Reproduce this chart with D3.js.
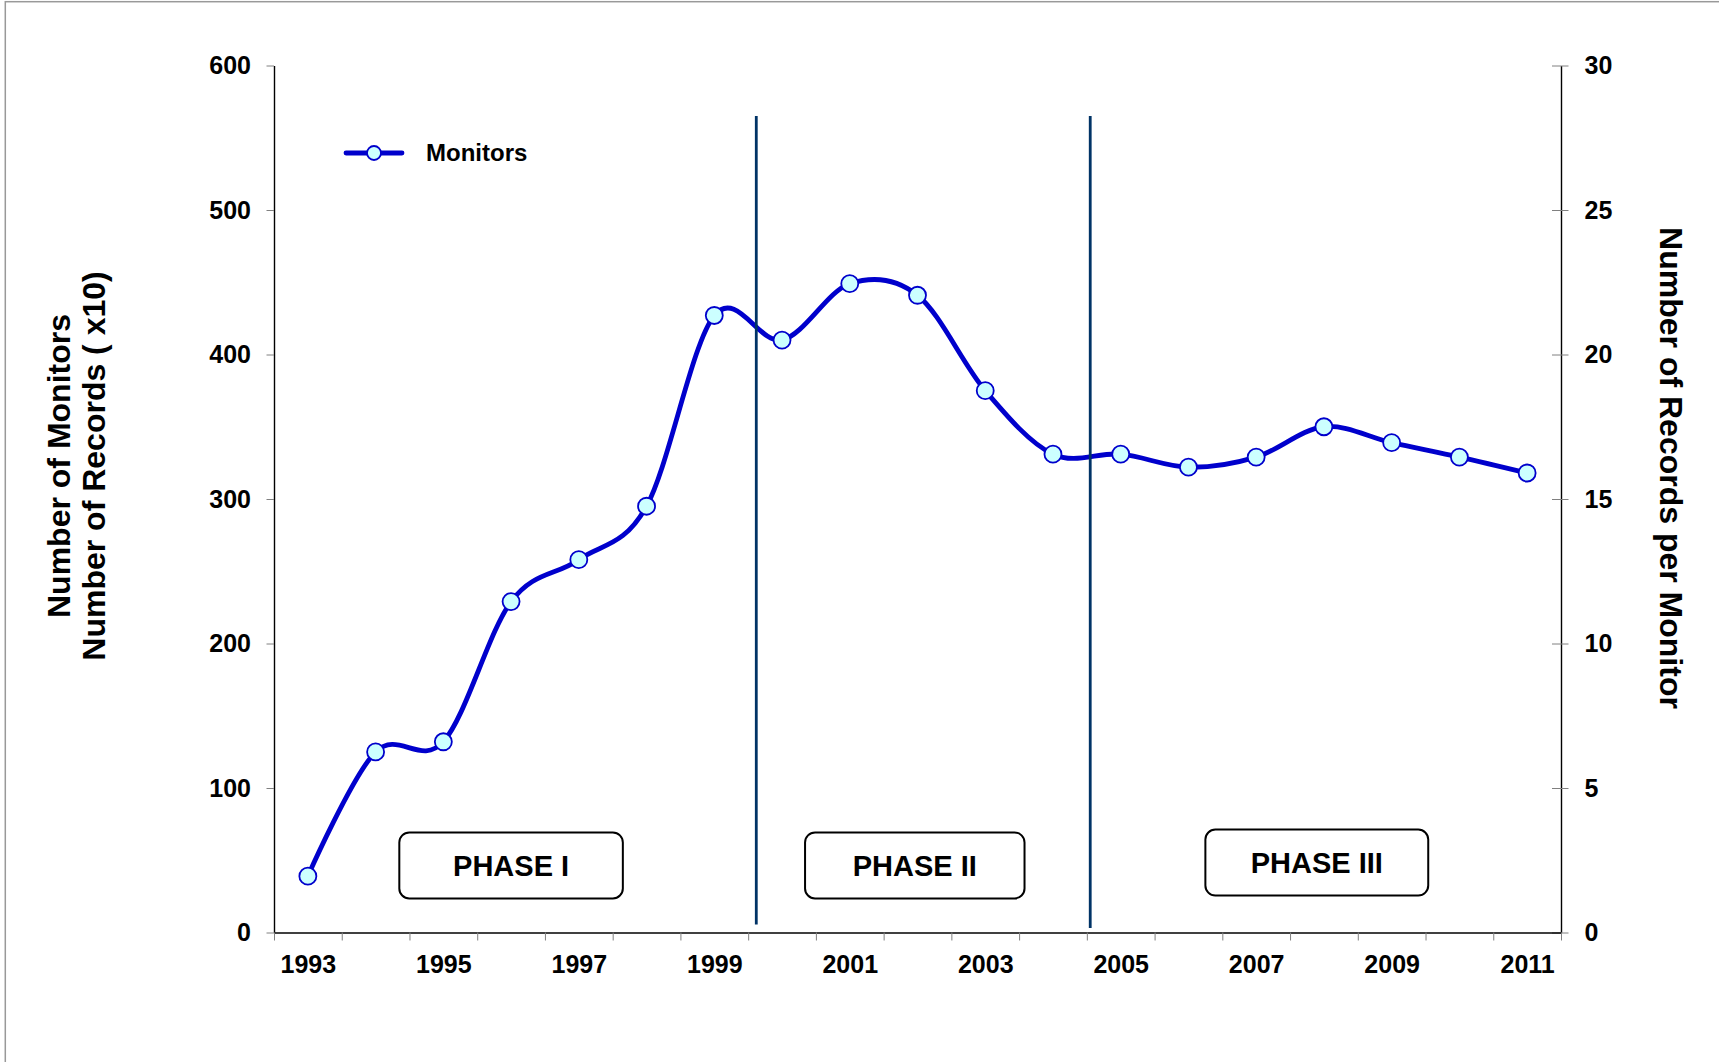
<!DOCTYPE html>
<html>
<head>
<meta charset="utf-8">
<script src="https://cdn.jsdelivr.net/npm/d3@7"></script>
<style>
body { margin: 0; background: #fff; }
svg text { font-family: "Liberation Sans", Arial, sans-serif; font-weight: bold; fill: #000; }
</style>
</head>
<body>
<div class="main"></div>
<script>
//chart values
var years = [1993, 1994, 1995, 1996, 1997, 1998, 1999, 2000, 2001, 2002, 2003, 2004, 2005, 2006, 2007, 2008, 2009, 2010, 2011];
var monitors = [39, 125, 132, 229, 258, 295, 427, 410, 449, 441, 375, 331, 331, 322, 329, 350, 339, 329, 318];
var yearLabels = [1993, 1995, 1997, 1999, 2001, 2003, 2005, 2007, 2009, 2011];
var leftTicks = [0, 100, 200, 300, 400, 500, 600];
var rightTicks = [0, 5, 10, 15, 20, 25, 30];
var phaseNames = ["PHASE I", "PHASE II", "PHASE III"];
var phaseStart = [1994.35, 2000.34, 2006.25];//in years
var phaseEnd = [1997.65, 2003.58, 2009.54];
var phaseLevel = [46.4, 46.4, 48.4];//box centre, left axis units
var phaseDividers = [1999.62, 2004.55];
var dividerBottom = [5.5, 3.2];

//canvas config
var margin = {top: 65.5, right: 158, bottom: 129.5, left: 274};
var width = 1719 - margin.left - margin.right;
var height = 1062 - margin.top - margin.bottom;

var svg = d3.select(".main")
	.append("svg")
	.attr("width", 1719)
	.attr("height", 1062);

//outer frame (only top and left are visible)
svg.append("rect")
	.attr("x", 5.3)
	.attr("y", 1.7)
	.attr("width", 1800)
	.attr("height", 1200)
	.style("fill", "none")
	.style("stroke", "#999")
	.style("stroke-width", 1.5);

var g = svg.append("g")
	.attr("transform", "translate(" + margin.left + "," + margin.top + ")");

var xScale = d3.scaleLinear()
	.domain([1992.5, 2011.5])
	.range([0, width]);
var yScale = d3.scaleLinear()
	.domain([0, 600])
	.range([height, 0]);
var yScaleRight = d3.scaleLinear()
	.domain([0, 30])
	.range([height, 0]);

//left axis
var yAxis = d3.axisLeft(yScale)
	.tickValues(leftTicks)
	.tickSize(7.5)
	.tickSizeOuter(0)
	.tickPadding(15.5);
g.append("g")
	.attr("class", "y-axis")
	.call(yAxis);

//right axis, ticks cross the line
var yAxisRight = d3.axisRight(yScaleRight)
	.tickValues(rightTicks)
	.tickSize(7.5)
	.tickSizeOuter(0)
	.tickPadding(16);
g.append("g")
	.attr("class", "y-axis-right")
	.attr("transform", "translate(" + width + ",0)")
	.call(yAxisRight)
	.selectAll(".tick line")
	.attr("x1", -9);

//x axis: ticks between categories, labels every second year
var xTicks = d3.range(1992.5, 2012, 1);
g.append("g")
	.attr("class", "x-axis")
	.attr("transform", "translate(0," + height + ")")
	.call(d3.axisBottom(xScale).tickValues(xTicks).tickSize(8).tickSizeOuter(0).tickFormat(""));
g.append("g")
	.attr("class", "x-labels")
	.attr("transform", "translate(0," + height + ")")
	.call(d3.axisBottom(xScale).tickValues(yearLabels).tickSize(0).tickPadding(22.6).tickFormat(d3.format("d")))
	.select(".domain").remove();

g.selectAll(".tick line").style("stroke", "#808080").style("stroke-width", 1);
g.selectAll(".domain").style("stroke", "#000").style("stroke-width", 1.4);
g.selectAll(".tick text").style("font-size", "25px");

//phase boxes
var phases = phaseNames.map(function(d, i) {
	return {name: d, x0: phaseStart[i], x1: phaseEnd[i], level: phaseLevel[i]};
});
var boxes = g.append("g").attr("class", "phases")
	.selectAll("g")
	.data(phases)
	.enter()
	.append("g");
boxes.append("rect")
	.attr("x", function(d) { return xScale(d.x0) })
	.attr("y", function(d) { return yScale(d.level) - 33 })
	.attr("width", function(d) { return xScale(d.x1) - xScale(d.x0) })
	.attr("height", 66)
	.attr("rx", 10)
	.style("fill", "#fff")
	.style("stroke", "#000")
	.style("stroke-width", 2);
boxes.append("text")
	.attr("x", function(d) { return (xScale(d.x0) + xScale(d.x1)) / 2 })
	.attr("y", function(d) { return yScale(d.level) })
	.attr("dy", "0.36em")
	.attr("text-anchor", "middle")
	.style("font-size", "29px")
	.text(function(d) { return d.name });

//monitors line
var lineData = years.map(function(d, i) { return {year: d, value: monitors[i]} });
var lineFunc = d3.line()
	.x(function(d) { return xScale(d.year) })
	.y(function(d) { return yScale(d.value) })
	.curve(d3.curveCatmullRom.alpha(0));

g.append("path")
	.datum(lineData)
	.attr("d", lineFunc)
	.style("fill", "none")
	.style("stroke", "#0000CC")
	.style("stroke-width", 4.8);

g.append("g").attr("class", "nodes")
	.selectAll("circle")
	.data(lineData)
	.enter()
	.append("circle")
	.attr("cx", function(d) { return xScale(d.year) })
	.attr("cy", function(d) { return yScale(d.value) })
	.attr("r", 8.5)
	.style("fill", "#CCFFFF")
	.style("stroke", "#0000CC")
	.style("stroke-width", 1.8);

//phase dividers sit on top of the curve
g.append("g").attr("class", "dividers")
	.selectAll("line")
	.data(phaseDividers)
	.enter()
	.append("line")
	.attr("x1", function(d) { return xScale(d) })
	.attr("x2", function(d) { return xScale(d) })
	.attr("y1", yScale(565))
	.attr("y2", function(d, i) { return yScale(dividerBottom[i]) })
	.style("stroke", "#003366")
	.style("stroke-width", 2.8);

//legend
var legend = svg.append("g")
	.attr("transform", "translate(346,153)");
legend.append("line")
	.attr("x1", 0)
	.attr("x2", 56)
	.style("stroke", "#0000CC")
	.style("stroke-width", 4.8)
	.style("stroke-linecap", "round");
legend.append("circle")
	.attr("cx", 28)
	.attr("r", 7)
	.style("fill", "#CCFFFF")
	.style("stroke", "#0000CC")
	.style("stroke-width", 1.8);
legend.append("text")
	.attr("x", 80)
	.attr("dy", "0.35em")
	.style("font-size", "24px")
	.text("Monitors");

//axis titles
var leftTitle = svg.append("text")
	.attr("transform", "translate(69.5,466) rotate(-90)")
	.attr("text-anchor", "middle")
	.style("font-size", "32px");
leftTitle.append("tspan").attr("x", 0).attr("y", 0).text("Number of Monitors");
leftTitle.append("tspan").attr("x", 0).attr("y", 35.5).text("Number of Records ( x10)");

svg.append("text")
	.attr("transform", "translate(1660,468) rotate(90)")
	.attr("text-anchor", "middle")
	.style("font-size", "32px")
	.text("Number of Records per Monitor");
</script>
</body>
</html>
